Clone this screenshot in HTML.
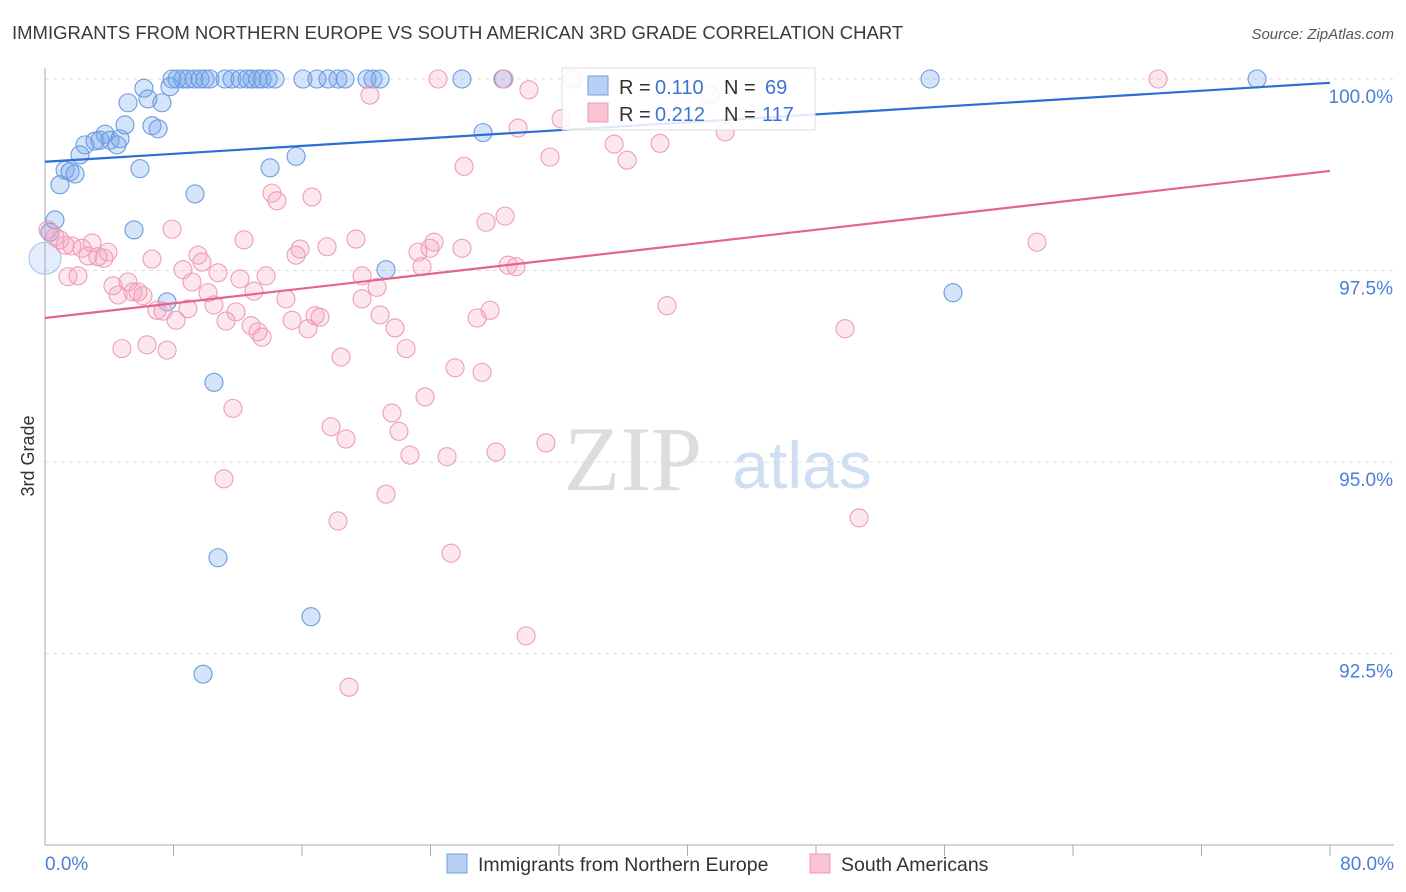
<!DOCTYPE html>
<html><head><meta charset="utf-8"><style>
body{margin:0;background:#fff;font-family:"Liberation Sans",sans-serif;}
svg{display:block}
</style></head><body>
<svg id="chart" width="1406" height="892">
<text x="12" y="39" font-size="18.5" fill="#3a3a3a">IMMIGRANTS FROM NORTHERN EUROPE VS SOUTH AMERICAN 3RD GRADE CORRELATION CHART</text>
<text x="1394" y="39" font-size="15" fill="#555" font-style="italic" text-anchor="end">Source: ZipAtlas.com</text>
<g>
<text x="633" y="490" font-size="92" fill="#ddd" font-family="Liberation Serif,serif" text-anchor="middle">ZIP</text>
<text x="802" y="488" font-size="66" fill="#cfdff3" text-anchor="middle">atlas</text>
</g>
<g id="grid"></g>
<g id="axes"></g>
<g id="pts"></g>
<g id="trend"></g>
<text x="34" y="456" font-size="18" fill="#333" text-anchor="middle" transform="rotate(-90 34 456)">3rd Grade</text>
<text x="45" y="870" font-size="19" fill="#4a7fd6">0.0%</text>
<text x="1394" y="870" font-size="19" fill="#4a7fd6" text-anchor="end">80.0%</text>
<g>
<rect x="562" y="68" width="253" height="62" fill="#fff" fill-opacity="0.85" stroke="#ddd"/>
<rect x="588" y="76" width="20" height="19" fill="#b7d0f3" stroke="#6f9ee0"/>
<rect x="588" y="103" width="20" height="19" fill="#fac3d3" stroke="#f09ab4"/>
<text x="619" y="94" font-size="20" fill="#333">R =</text>
<text x="655" y="94" font-size="20" fill="#3b74d0">0.110</text>
<text x="724" y="94" font-size="20" fill="#333">N =</text>
<text x="765" y="94" font-size="20" fill="#3b74d0">69</text>
<text x="619" y="121" font-size="20" fill="#333">R =</text>
<text x="655" y="121" font-size="20" fill="#3b74d0">0.212</text>
<text x="724" y="121" font-size="20" fill="#333">N =</text>
<text x="762" y="121" font-size="20" fill="#3b74d0">117</text>
</g>
<g>
<rect x="447" y="854" width="20" height="19" fill="#b7d0f3" stroke="#6f9ee0"/>
<text x="478" y="871" font-size="19.5" fill="#333">Immigrants from Northern Europe</text>
</g>
<g>
<rect x="810" y="854" width="20" height="19" fill="#fac3d3" stroke="#f09ab4"/>
<text x="841" y="871" font-size="19.5" fill="#333">South Americans</text>
</g>
</svg>
<script>
const yTicks=[100,97.5,95,92.5];
const yTickLabels=["100.0%","97.5%","95.0%","92.5%"];
const xTicks=[8,16,24,32,40,48,56,64,72,80];
const blueX=[7.91,8.22,8.59,8.90,9.28,9.65,9.96,10.27,11.21,11.64,12.14,12.58,12.89,13.26,13.51,13.89,14.32,16.06,16.93,17.62,18.24,18.68,20.05,20.42,20.86,25.96,28.51,55.10,75.46,7.78,6.16,5.17,6.41,7.28,4.98,6.66,7.04,3.74,2.49,3.11,3.42,4.05,4.48,4.67,2.18,1.25,1.56,1.87,0.93,5.91,14.01,15.63,27.27,9.34,5.54,0.62,0.31,0,21.23,7.60,56.53,10.52,10.77,16.56,9.84];
const blueY=[100,100,100,100,100,100,100,100,100,100,100,100,100,100,100,100,100,100,100,100,100,100,100,100,100,100,100,100,100,99.90,99.88,99.69,99.74,99.69,99.40,99.39,99.35,99.28,99.14,99.19,99.20,99.20,99.14,99.22,99.01,98.81,98.79,98.76,98.62,98.83,98.84,98.99,99.30,98.50,98.03,98.16,98.00,97.66,97.51,97.09,97.21,96.04,93.75,92.98,92.23];
const pinkX=[24.47,32.87,69.30,28.58,20.23,30.13,32.13,29.45,35.43,38.29,42.34,31.44,36.24,26.09,41.40,14.13,14.44,16.62,7.91,12.39,19.36,15.88,17.56,15.63,27.46,28.64,24.22,23.22,23.97,25.96,0.19,0.62,0.93,1.25,1.68,2.30,2.93,2.68,3.30,3.92,3.67,6.66,9.53,9.77,8.59,10.77,12.14,13.76,9.15,1.43,2.05,4.23,4.55,5.17,5.48,6.10,5.79,10.15,19.74,20.67,23.47,28.83,29.32,61.76,38.73,19.74,15.00,13.01,11.89,10.52,8.90,7.35,6.97,8.16,11.27,12.83,13.26,13.51,15.38,16.37,16.81,17.12,20.86,21.79,27.71,26.90,49.81,4.79,6.35,7.60,18.43,22.48,25.53,27.21,11.70,21.60,23.66,17.81,18.74,22.04,31.19,22.72,25.03,28.08,11.14,21.23,18.24,50.68,25.28,29.95,18.93];
const pinkY=[100,100,100,100,99.79,99.86,99.48,99.36,99.15,99.16,99.31,98.98,98.94,98.86,99.79,98.51,98.41,98.46,98.04,97.90,97.91,97.78,97.81,97.70,98.13,98.21,97.87,97.74,97.79,97.79,98.03,97.94,97.90,97.83,97.82,97.79,97.86,97.69,97.68,97.74,97.66,97.65,97.70,97.61,97.51,97.47,97.39,97.43,97.35,97.42,97.43,97.30,97.18,97.35,97.22,97.17,97.22,97.21,97.43,97.28,97.55,97.57,97.55,97.87,97.04,97.13,97.13,97.23,96.96,97.05,97.00,96.97,96.98,96.85,96.84,96.78,96.70,96.63,96.85,96.74,96.91,96.89,96.92,96.75,96.98,96.88,96.74,96.48,96.53,96.46,96.37,96.48,96.23,96.17,95.70,95.64,95.85,95.46,95.30,95.40,95.25,95.09,95.07,95.13,94.78,94.58,94.23,94.27,93.81,92.73,92.06];
const blueTrend=[98.92,99.95];
const pinkTrend=[96.88,98.80];
const X=v=>45+v/80*1285, Y=v=>79+(100-v)/10*766;
const NS='http://www.w3.org/2000/svg';
function mk(t,a,p){const e=document.createElementNS(NS,t);for(const k in a)e.setAttribute(k,a[k]);p.appendChild(e);return e;}
const grid=document.getElementById('grid'),axes=document.getElementById('axes'),pts=document.getElementById('pts'),trend=document.getElementById('trend');
yTicks.forEach((t,i)=>{
 const l=mk('line',{x1:45,x2:1394,y1:Y(t),y2:Y(t),stroke:'#ddd','stroke-dasharray':'4,4'},grid);
 
 
 const tx=mk('text',{x:1393,y:Y(t)+24,'font-size':19,fill:'#4a7fd6','text-anchor':'end'},grid);
 tx.textContent=yTickLabels[i];
 
 
});
const ya=mk('line',{x1:45,x2:45,y1:68,y2:845,stroke:'#aaa'},axes);


const xa=mk('line',{x1:45,x2:1394,y1:845,y2:845,stroke:'#aaa'},axes);


xTicks.forEach(t=>{
 const l=mk('line',{x1:X(t),x2:X(t),y1:845,y2:856,stroke:'#aaa'},axes);
 
 
});
blueX.forEach((v,i)=>{
 const big=(blueX[i]===0);
 const c=mk('circle',{cx:X(v),cy:Y(blueY[i]),r:big?16:9,fill:big?'rgba(120,165,235,0.2)':'rgba(120,165,235,0.3)',stroke:big?'#a9c4ee':'#6a9be0','stroke-width':1.1},pts);
 
 
});
pinkX.forEach((v,i)=>{
 const c=mk('circle',{cx:X(v),cy:Y(pinkY[i]),r:9,fill:'rgba(245,160,190,0.25)',stroke:'#ef9cb8','stroke-width':1.1},pts);
 
 
});
const bl=mk('line',{x1:X(0),x2:X(80),y1:Y(blueTrend[0]),y2:Y(blueTrend[1]),stroke:'#2b6fd4','stroke-width':2.2},trend);


const pl=mk('line',{x1:X(0),x2:X(80),y1:Y(pinkTrend[0]),y2:Y(pinkTrend[1]),stroke:'#e5648f','stroke-width':2.2},trend);


</script>
</body></html>
